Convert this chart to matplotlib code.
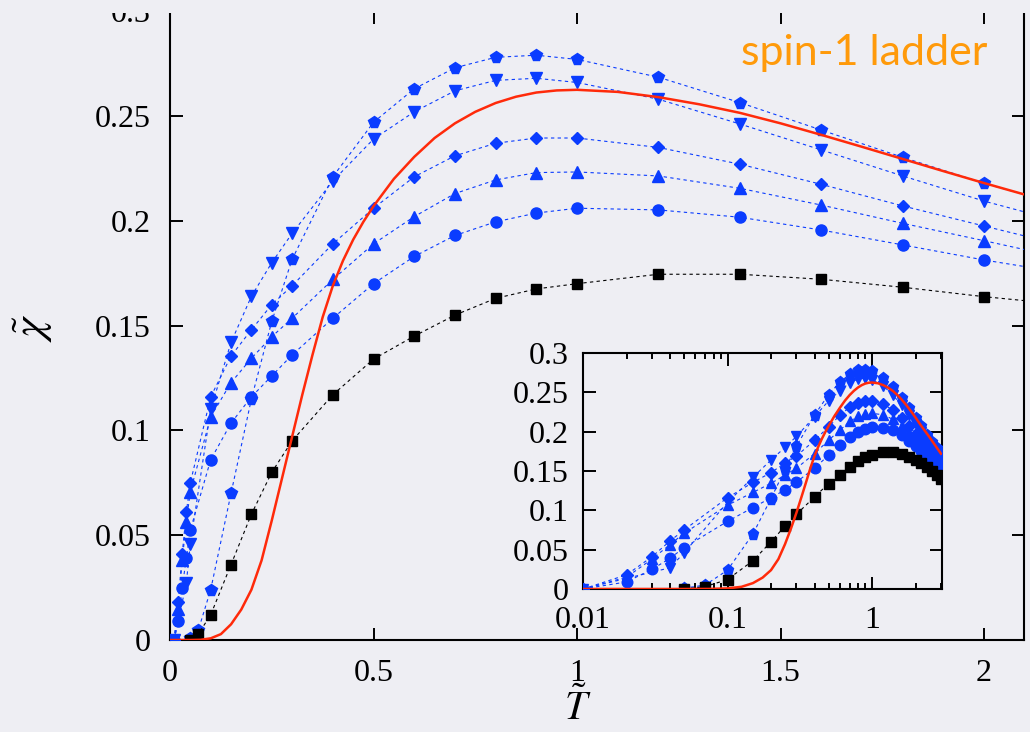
import numpy as np
import matplotlib
matplotlib.use("Agg")
import matplotlib.pyplot as plt
from matplotlib.patches import Rectangle
from matplotlib.ticker import FixedLocator, LogLocator, NullFormatter

plt.rcParams['font.family'] = 'Liberation Serif'
plt.rcParams['mathtext.fontset'] = 'stix'

BG = '#eeeef3'
BLUE = '#0a3cff'
RED = '#ff2a0a'
ORANGE = '#ff9a0a'

# ---- data ----
T_tail = [1.2, 1.4, 1.6, 1.8, 2.0, 2.2, 2.4, 2.6, 2.8, 3.0]

T_pent = [0.05, 0.07, 0.1, 0.15, 0.2, 0.25, 0.3, 0.4, 0.5, 0.6, 0.7, 0.8, 0.9, 1.0] + T_tail
chi_pent = [0.001, 0.005, 0.024, 0.070, 0.115, 0.152, 0.1816, 0.221, 0.247, 0.263, 0.273, 0.278,
            0.279, 0.277, 0.2685, 0.2564, 0.2433, 0.2303, 0.2179, 0.207, 0.196, 0.187, 0.179, 0.172]

T_dtri = [0.01, 0.04, 0.05, 0.1, 0.15, 0.2, 0.25, 0.3, 0.4, 0.5, 0.6, 0.7, 0.8, 0.9, 1.0] + T_tail
chi_dtri = [0.0, 0.027, 0.046, 0.110, 0.142, 0.164, 0.180, 0.194, 0.219, 0.239, 0.252, 0.262, 0.267,
            0.268, 0.266, 0.258, 0.2462, 0.2338, 0.2214, 0.2094, 0.199, 0.190, 0.181, 0.173, 0.166]

T_low = [0.01, 0.02, 0.03, 0.04, 0.05, 0.1, 0.15, 0.2, 0.25, 0.3, 0.4, 0.5, 0.6, 0.7, 0.8, 0.9, 1.0] + T_tail
chi_diam = [0.0, 0.018, 0.041, 0.061, 0.075, 0.116, 0.1355, 0.148, 0.160, 0.169, 0.189, 0.206, 0.221,
            0.231, 0.237, 0.2395, 0.2395, 0.235, 0.227, 0.2174, 0.2071, 0.1975, 0.188, 0.180, 0.172,
            0.166, 0.160]
chi_utri = [0.0, 0.015, 0.038, 0.0565, 0.0708, 0.1065, 0.1228, 0.1344, 0.1447, 0.1535, 0.172, 0.189,
            0.202, 0.213, 0.2195, 0.223, 0.2233, 0.2214, 0.2155, 0.2075, 0.1988, 0.1905, 0.182, 0.175,
            0.168, 0.162, 0.156]
chi_circ = [0.0, 0.009, 0.025, 0.039, 0.0525, 0.086, 0.1035, 0.116, 0.126, 0.136, 0.1535, 0.170,
            0.183, 0.193, 0.1995, 0.2037, 0.206, 0.2052, 0.2017, 0.1956, 0.1885, 0.1813, 0.175, 0.168,
            0.162, 0.156, 0.150]

T_sq = [0.05, 0.07, 0.1, 0.15, 0.2, 0.25, 0.3, 0.4, 0.5, 0.6, 0.7, 0.8, 0.9, 1.0] + T_tail
chi_sq = [0.0, 0.003, 0.012, 0.036, 0.060, 0.080, 0.095, 0.117, 0.134, 0.145, 0.155, 0.163, 0.1675,
          0.170, 0.1745, 0.1745, 0.1721, 0.1683, 0.1638, 0.160, 0.155, 0.150, 0.145, 0.140]

T_red = [0.0, 0.01, 0.05, 0.075, 0.1, 0.125, 0.15, 0.175, 0.2, 0.225, 0.25, 0.275, 0.3, 0.325, 0.35,
         0.375, 0.4, 0.425, 0.45, 0.475, 0.5, 0.55, 0.6, 0.65, 0.7, 0.75, 0.8, 0.85, 0.9, 0.95, 1.0,
         1.1, 1.2, 1.3, 1.4, 1.5, 1.6, 1.7, 1.8, 1.9, 2.0, 2.2, 2.5, 3.0]
chi_red = [0.0, 0.0, 0.0, 0.0001, 0.0008, 0.0028, 0.0075, 0.0145, 0.024, 0.038, 0.057, 0.077, 0.097,
           0.117, 0.136, 0.154, 0.169, 0.181, 0.191, 0.1995, 0.207, 0.220, 0.2305, 0.2395, 0.2465,
           0.252, 0.2562, 0.2592, 0.2612, 0.2622, 0.2625, 0.2615, 0.259, 0.2556, 0.2515, 0.2465,
           0.241, 0.2353, 0.2295, 0.2237, 0.218, 0.207, 0.193, 0.172]

blue_series = [
    (T_pent, chi_pent, 'p', 8.5),
    (T_dtri, chi_dtri, 'v', 8),
    (T_low, chi_diam, 'D', 6),
    (T_low, chi_utri, '^', 8),
    (T_low, chi_circ, 'o', 8),
]


def draw(ax, ms_scale=1.0):
    for T, chi, mk, ms in blue_series:
        ax.plot(T, chi, color=BLUE, ls=(0, (3, 3)), lw=0.8, marker=mk, ms=ms * ms_scale,
                mec=BLUE, mfc=BLUE, zorder=3)
    ax.plot(T_sq, chi_sq, color='black', ls=(0, (3, 3)), lw=0.8, marker='s', ms=7 * ms_scale,
            mec='black', mfc='black', zorder=3)
    ax.plot(T_red, chi_red, color=RED, lw=1.8, zorder=4)


def style(ax):
    ax.set_facecolor('none')
    for s in ax.spines.values():
        s.set_linewidth(1.5)
    ax.tick_params(which='both', direction='in', top=True, right=True, width=1.4, labelsize=23)
    ax.tick_params(which='major', length=9)
    ax.tick_params(which='minor', length=4.5)


fig = plt.figure(figsize=(10.3, 7.32), dpi=100)
fig.patch.set_facecolor(BG)

ax = fig.add_axes([170 / 1030, 1 - 640 / 732, 854 / 1030, 628.8 / 732])
draw(ax)
style(ax)
ax.set_xlim(0, 2.098)
ax.set_ylim(0, 0.3)
ax.spines['top'].set_visible(False)
ax.xaxis.set_major_locator(FixedLocator([0, 0.5, 1, 1.5, 2]))
ax.set_xticklabels(['0', '0.5', '1', '1.5', '2'])
ax.yaxis.set_major_locator(FixedLocator([0, 0.05, 0.1, 0.15, 0.2, 0.25, 0.3]))
ax.set_yticklabels(['0', '0.05', '0.1', '0.15', '0.2', '0.25', '0.3'])
ax.tick_params(axis='x', pad=14)
ax.tick_params(axis='y', pad=14)
ax.set_xlabel(r'$\tilde{T}$', fontsize=29)
ax.xaxis.set_label_coords(0.478, -0.077)
ax.set_ylabel(r'$\tilde{\chi}$', fontsize=32)
ax.yaxis.set_label_coords(-0.135, 0.497)

fig.text(0.959, 1 - 65 / 732, 'spin-1 ladder', color=ORANGE, fontsize=31,
         family='Lato', ha='right', va='baseline')

ins = fig.add_axes([583 / 1030, 1 - 589 / 732, 359 / 1030, 236 / 732])
ins.set_facecolor(BG)
draw(ins, 0.95)
style(ins)
ins.set_xscale('log')
ins.set_xlim(0.01, 3.05)
ins.set_ylim(0, 0.3)
ins.xaxis.set_major_locator(FixedLocator([0.01, 0.1, 1]))
ins.set_xticklabels(['0.01', '0.1', '1'])
ins.xaxis.set_minor_locator(LogLocator(base=10, subs=np.arange(2, 10)))
ins.xaxis.set_minor_formatter(NullFormatter())
ins.yaxis.set_major_locator(FixedLocator([0, 0.05, 0.1, 0.15, 0.2, 0.25, 0.3]))
ins.set_yticklabels(['0', '0.05', '0.1', '0.15', '0.2', '0.25', '0.3'])
ins.tick_params(axis='x', pad=12)
ins.tick_params(axis='y', pad=10)

# the source image is cropped just below the top frame line
fig.patches.append(Rectangle((0, 1 - 13 / 732), 1, 13 / 732, transform=fig.transFigure,
                             facecolor=BG, edgecolor='none', zorder=10))

fig.savefig('out.png', dpi=100, facecolor=BG)
